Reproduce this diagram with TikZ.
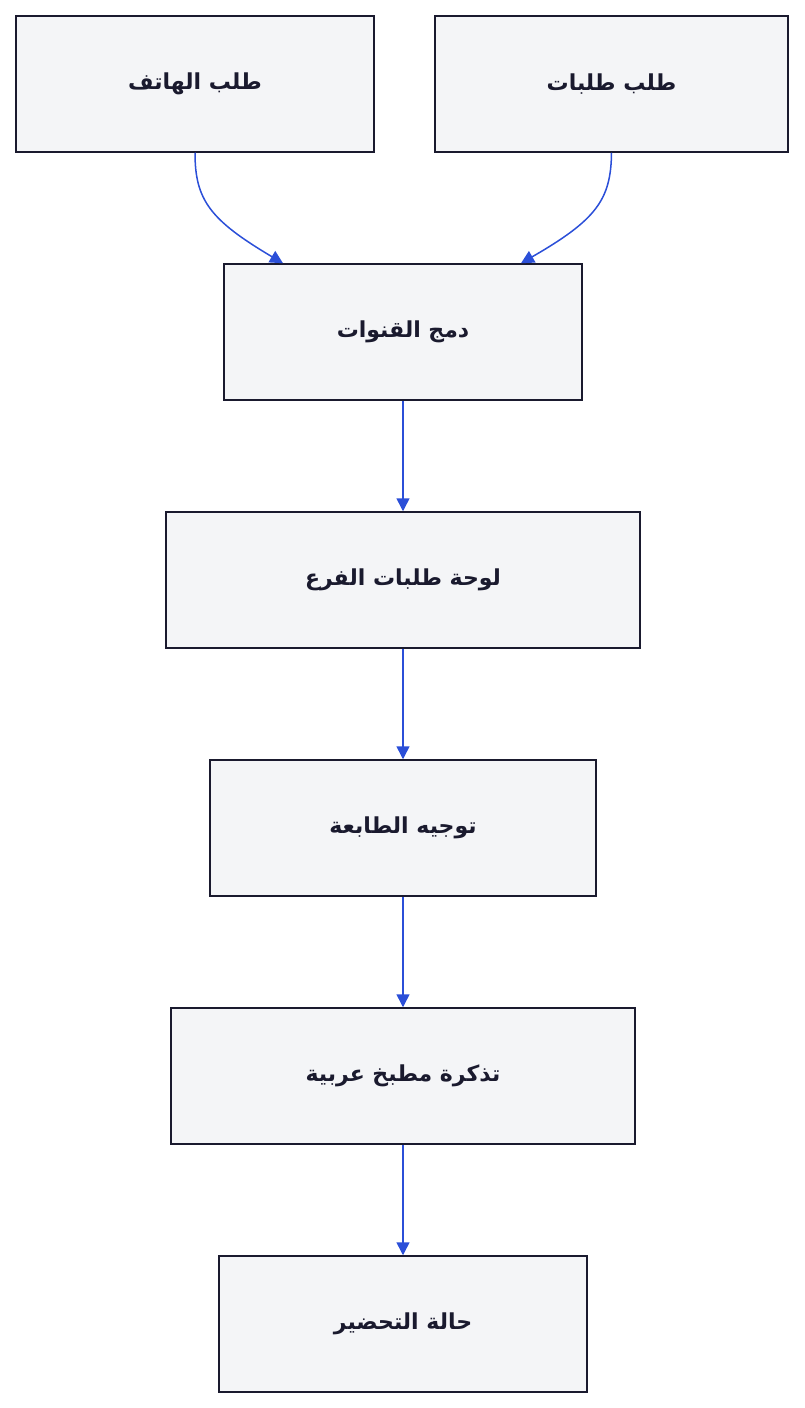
\documentclass[tikz,border=0pt]{standalone}
\usepackage{fontspec}
\newfontfamily\arabicfont[Script=Arabic]{DejaVu Sans}
\TeXXeTstate=1
\usetikzlibrary{arrows.meta}
\definecolor{boxfill}{HTML}{F4F5F7}
\definecolor{boxline}{HTML}{1A1A2E}
\definecolor{flow}{HTML}{2B4FD8}
\tikzset{
  stage/.style={draw=boxline, fill=boxfill, line width=1.5pt, minimum height=136pt, inner sep=0pt, font=\arabicfont\bfseries\fontsize{22}{26}\selectfont, text=boxline},
  line/.style={draw=flow, line width=1.5pt, -{Triangle[length=13pt,width=13pt]}}
}
\newcommand{\rtl}[1]{\beginR #1\endR}
\begin{document}
\begin{tikzpicture}[x=1pt,y=-1pt]
  \useasboundingbox (0,0) rectangle (804,1408);
  \node[stage, minimum width=358pt] (phone) at (195,84) {\rtl{طلب الهاتف}};
  \node[stage, minimum width=353pt] (talabat) at (611.5,84) {\rtl{طلب طلبات}};
  \node[stage, minimum width=358pt] (merge) at (403,332) {\rtl{دمج القنوات}};
  \node[stage, minimum width=474pt] (board) at (403,580) {\rtl{لوحة طلبات الفرع}};
  \node[stage, minimum width=386pt] (printer) at (403,828) {\rtl{توجيه الطابعة}};
  \node[stage, minimum width=464pt] (ticket) at (403,1076) {\rtl{تذكرة مطبخ عربية}};
  \node[stage, minimum width=368pt] (status) at (403,1324) {\rtl{حالة التحضير}};

  \path[line] (phone.south) .. controls (195,200) and (210,220) .. (merge.north west -| 283,0);
  \path[line] (talabat.south) .. controls (611,200) and (596,220) .. (merge.north west -| 521,0);
  \path[line] (merge) -- (board);
  \path[line] (board) -- (printer);
  \path[line] (printer) -- (ticket);
  \path[line] (ticket) -- (status);
\end{tikzpicture}
\end{document}
